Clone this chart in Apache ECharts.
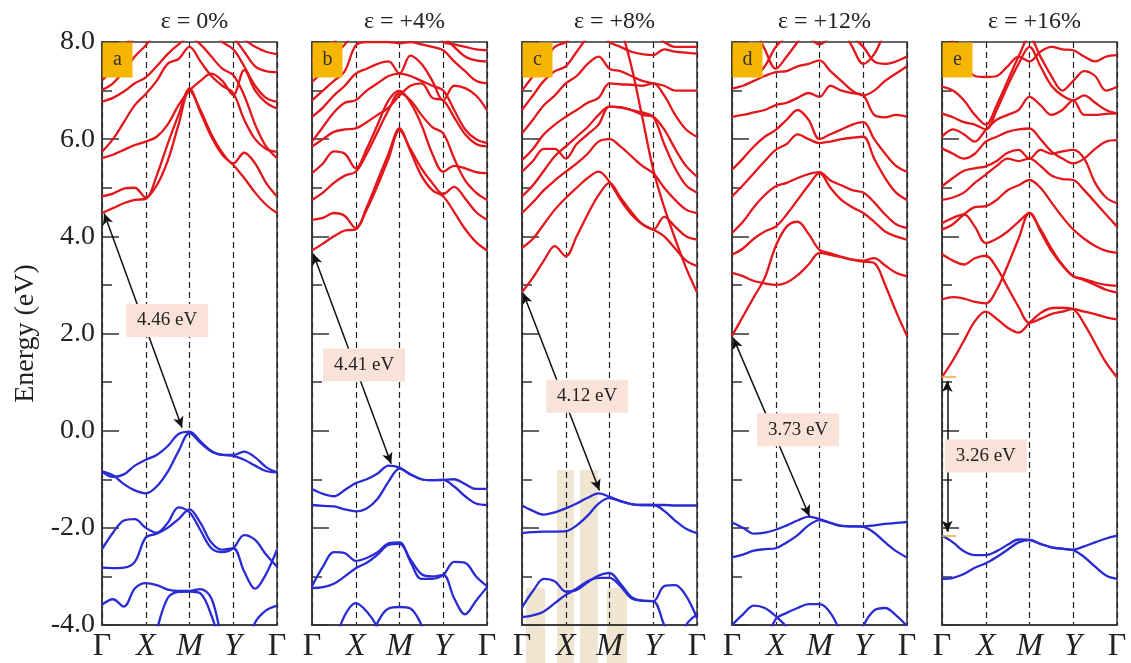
<!DOCTYPE html>
<html><head><meta charset="utf-8">
<script src="https://cdn.jsdelivr.net/npm/echarts@6/dist/echarts.min.js"></script>
<style>html,body{margin:0;padding:0;background:#fff}#c{width:1131px;height:663px}</style>
</head><body><div id="c"></div>
<script>
// ---------- DATA ----------
const kPts = [0,0.25,0.5,0.75,1,1.25,1.5,1.75,2,2.25,2.5,2.75,3,3.25,3.5,3.75,4];
const kLabels = ['Γ','X','M','Y','Γ'];
const strainLabels = ['ε = 0%','ε = +4%','ε = +8%','ε = +12%','ε = +16%'];
const panelLetters = ['a','b','c','d','e'];
const gapLabels = ['4.46 eV','4.41 eV','4.12 eV','3.73 eV','3.26 eV'];

const condA = [
 [4.48,4.58,4.68,4.75,4.77, 5.25,5.9,6.5,7.04, 6.55,6.05,5.68,5.47, 5.2,4.9,4.65,4.48],
 [4.82,4.88,4.98,5.0,4.8, 5.05,5.55,6.3,7.0, 6.6,6.1,5.72,5.5, 5.72,5.5,5.1,4.82],
 [5.61,5.68,5.78,5.88,5.95, 6.05,6.3,6.7,7.0, 7.2,7.35,7.2,6.91, 7.42,7.0,6.75,6.63],
 [5.74,6.0,6.35,6.7,6.93, 7.2,7.55,7.65,7.9, 7.6,7.3,7.1,6.95, 6.4,6.0,5.8,5.74],
 [6.77,6.85,6.98,7.15,7.27, 7.5,7.75,7.95,8.1, 7.95,7.7,7.45,7.32, 6.9,6.3,5.85,5.61],
 [7.01,7.15,7.4,7.7,7.93, 8.2,8.4,8.5,8.5, 8.4,8.2,8.0,7.85, 7.5,7.1,6.85,6.77],
 [7.21,7.45,7.8,8.1,8.3, 8.5,8.6,8.6,8.6, 8.6,8.5,8.3,8.1, 7.8,7.5,7.4,7.38],
 [7.55,7.65,7.9,8.2,8.4, 8.6,8.7,8.7,8.7, 8.7,8.6,8.4,8.2, 8.05,7.9,7.8,7.75]
];
const valA = [
 [-0.84,-0.95,-0.9,-0.72,-0.6, -0.5,-0.32,-0.07,-0.02, -0.22,-0.42,-0.5,-0.5, -0.43,-0.55,-0.75,-0.86],
 [-0.84,-0.92,-1.1,-1.23,-1.29, -1.15,-0.85,-0.42,-0.05, -0.25,-0.43,-0.5,-0.52, -0.6,-0.72,-0.83,-0.86],
 [-2.44,-2.1,-1.85,-1.82,-2.0, -2.1,-1.9,-1.58,-1.68, -2.05,-2.42,-2.5,-2.42, -2.15,-2.25,-2.55,-2.8],
 [-2.82,-2.83,-2.82,-2.7,-2.2, -2.12,-2.0,-1.82,-1.62, -1.9,-2.3,-2.45,-2.42, -2.9,-3.25,-2.95,-2.45],
 [-3.58,-3.47,-3.62,-3.25,-3.14, -3.18,-3.27,-3.3,-3.3, -3.26,-3.45,-4.3,-4.9, -5,-5,-5,-5],
 [-5,-5,-5,-5,-4.8, -4.1,-3.45,-3.32,-3.31, -3.35,-3.8,-4.5,-5, -4.6,-3.95,-3.7,-3.6]
];
const condB = [
 [3.71,3.85,4.0,4.12,4.14, 4.6,5.15,5.7,6.22, 5.75,5.25,4.95,4.82, 4.5,4.15,3.88,3.71],
 [4.34,4.38,4.48,4.42,4.17, 4.55,5.05,5.6,6.18, 5.8,5.4,5.1,4.87, 5.02,4.78,4.5,4.34],
 [4.75,4.9,5.1,5.25,5.33, 5.7,6.15,6.6,6.95, 6.8,6.5,6.25,6.12, 5.6,5.15,4.9,4.75],
 [5.3,5.5,5.75,5.7,5.4, 5.8,6.3,6.8,7.0, 6.75,6.3,5.7,5.33, 5.45,5.4,5.32,5.3],
 [5.85,6.0,6.15,6.2,6.22, 6.35,6.5,6.65,6.9, 7.1,7.15,6.85,6.8, 6.45,6.1,5.9,5.85],
 [5.95,6.25,6.55,6.75,6.8, 7.0,7.15,7.3,7.35, 7.3,7.2,7.1,7.0, 6.6,6.2,6.0,5.92],
 [6.46,6.65,6.9,7.1,7.35, 7.45,7.55,7.6,7.35, 7.72,7.55,7.2,6.8, 7.1,7.05,6.9,6.6],
 [6.8,7.0,7.2,7.4,7.93, 8.0,8.0,8.0,7.97, 8.0,7.95,7.9,7.83, 7.6,7.4,7.2,7.15],
 [7.18,7.4,7.7,7.95,8.2, 8.3,8.4,8.4,8.4, 8.4,8.3,8.2,8.1, 7.9,7.7,7.62,7.6],
 [7.6,7.8,8.0,8.2,8.4, 8.5,8.5,8.5,8.5, 8.5,8.4,8.2,8.0, 7.95,7.9,7.85,7.83]
];
const valB = [
 [-1.2,-1.3,-1.35,-1.22,-1.08, -1.0,-0.88,-0.72,-0.76, -0.9,-1.0,-1.02,-1.01, -1.0,-1.1,-1.2,-1.2],
 [-1.53,-1.55,-1.56,-1.62,-1.66, -1.6,-1.4,-1.05,-0.78, -0.9,-1.0,-1.02,-1.02, -1.15,-1.35,-1.5,-1.53],
 [-3.2,-2.8,-2.5,-2.52,-2.68, -2.62,-2.5,-2.32,-2.3, -2.7,-3.05,-3.05,-2.97, -2.7,-2.72,-3.0,-3.2],
 [-3.24,-3.22,-3.15,-3.0,-2.83, -2.72,-2.55,-2.35,-2.33, -2.65,-2.95,-3.0,-2.97, -3.45,-3.78,-3.5,-3.22],
 [-5,-5,-4.4,-3.8,-3.55, -3.72,-4.05,-4.6,-5, -5,-5,-5,-5, -5,-5,-5,-5],
 [-5,-5,-5,-5,-5, -4.6,-3.95,-3.66,-3.63, -3.66,-4.0,-4.6,-5, -5,-5,-5,-5]
];
const condC = [
 [2.85,3.15,3.5,3.8,3.59, 4.0,4.45,4.85,5.1, 4.8,4.5,4.25,4.14, 4.0,3.75,3.5,3.39],
 [3.76,3.95,4.25,4.55,4.79, 5.0,5.2,5.33,5.12, 4.75,4.45,4.25,4.14, 4.4,4.2,4.0,3.93],
 [9,9,9,9,9, 9,9,9,8.8, 8.3,7.5,6.45,5.37, 4.6,3.95,3.35,2.85],
 [4.48,4.7,4.95,5.15,5.33, 5.5,5.7,5.95,6.0, 5.85,5.65,5.45,5.3, 5.0,4.75,4.55,4.48],
 [4.82,5.05,5.35,5.65,5.85, 6.05,6.25,6.5,6.67, 6.65,6.6,6.55,6.46, 5.9,5.4,5.05,4.9],
 [5.33,5.55,5.8,5.8,5.6, 5.9,6.1,6.3,6.67, 6.66,6.6,6.5,6.46, 6.2,5.8,5.45,5.23],
 [5.57,5.8,6.1,6.3,6.46, 6.6,6.75,6.85,7.15, 7.13,7.12,7.1,7.15, 6.9,6.5,6.2,6.05],
 [6.12,6.4,6.7,6.9,7.15, 7.3,7.55,7.7,7.45, 7.4,7.3,7.2,7.15, 7.1,7.0,7.0,7.0],
 [6.6,6.9,7.2,7.4,7.5, 7.8,8.1,8.3,8.0, 7.9,7.8,7.75,7.73, 7.85,7.8,7.78,7.76],
 [7.0,7.3,7.6,7.9,8.0, 8.2,8.4,8.5,8.6, 8.5,8.4,8.3,8.2, 8.0,7.9,7.9,7.9]
];
const valC = [
 [-1.54,-1.65,-1.73,-1.68,-1.6, -1.5,-1.38,-1.29,-1.36, -1.45,-1.51,-1.53,-1.53, -1.53,-1.54,-1.54,-1.54],
 [-2.11,-2.09,-2.08,-2.08,-2.07, -1.95,-1.75,-1.5,-1.39, -1.45,-1.51,-1.53,-1.53, -1.65,-1.85,-2.02,-2.11],
 [-3.64,-3.3,-3.05,-3.1,-3.31, -3.28,-3.12,-2.98,-2.93, -3.15,-3.42,-3.5,-3.51, -3.2,-3.18,-3.4,-3.86],
 [-3.84,-3.8,-3.72,-3.55,-3.38, -3.25,-3.1,-3.03,-3.03, -3.2,-3.45,-3.5,-3.51, -4.0,-4.5,-4.8,-5],
 [-5,-5,-5,-5,-5, -5,-5,-5,-5, -5,-5,-5,-5, -5,-4.6,-4.0,-3.78]
];
const condD = [
 [1.95,2.35,2.75,3.15,3.8, 4.2,4.3,4.05,3.72, 3.65,3.58,3.52,3.48, 3.45,3.0,2.45,1.95],
 [3.25,3.18,3.08,3.03,3.0, 3.05,3.2,3.42,3.66, 3.62,3.57,3.52,3.5, 3.55,3.4,3.25,3.18],
 [3.62,3.75,3.95,4.1,4.2, 4.45,4.75,5.05,5.3, 5.0,4.75,4.6,4.48, 4.3,4.1,4.0,3.93],
 [4.07,4.3,4.6,4.85,5.03, 5.1,5.2,5.28,5.32, 5.15,5.05,4.95,4.9, 4.7,4.45,4.25,4.17],
 [4.82,5.05,5.3,5.55,5.78, 5.9,6.1,6.0,5.92, 5.95,6.0,6.03,6.05, 5.6,5.2,4.9,4.75],
 [5.37,5.6,5.85,6.05,6.19, 6.4,6.6,6.4,6.0, 6.1,6.2,6.3,6.35, 6.0,5.7,5.45,5.33],
 [6.46,6.5,6.55,6.6,6.7, 6.75,6.85,6.95,6.87, 7.1,7.0,6.95,6.9, 6.5,6.45,6.5,6.46],
 [7.04,7.1,7.2,7.3,7.38, 7.4,7.5,7.55,7.62, 7.4,7.2,7.0,6.9, 7.0,7.2,7.35,7.5],
 [7.6,7.45,7.3,7.5,7.9, 8.1,8.2,8.1,7.95, 8.1,8.2,8.1,7.9, 7.6,7.55,7.6,7.7],
 [8.8,8.6,8.3,7.85,7.45, 7.7,8.0,8.3,8.6, 8.6,8.3,7.9,7.55, 7.75,8.2,8.5,8.8]
];
const valD = [
 [-1.89,-2.0,-2.12,-2.1,-2.04, -1.95,-1.85,-1.77,-1.82, -1.9,-1.96,-1.97,-1.97, -1.95,-1.92,-1.9,-1.88],
 [-2.61,-2.55,-2.47,-2.44,-2.42, -2.3,-2.15,-1.95,-1.84, -1.9,-1.96,-1.97,-1.98, -2.1,-2.3,-2.48,-2.61],
 [-4.0,-3.78,-3.6,-3.65,-3.82, -4.05,-4.5,-5,-5, -5,-5,-5,-5, -5,-5,-5,-5],
 [-5,-5,-5,-4.4,-3.88, -3.75,-3.65,-3.57,-3.57, -3.75,-4.2,-4.8,-5, -5,-5,-5,-5],
 [-5,-5,-5,-5,-5, -5,-5,-5,-5, -5,-5,-4.6,-4.02, -3.7,-3.65,-3.8,-4.02]
];
const condE = [
 [1.1,1.45,1.85,2.25,2.45, 2.3,2.12,2.02,2.22, 2.42,2.52,2.53,2.5, 2.2,1.8,1.4,1.1],
 [2.7,2.75,2.72,2.65,2.62, 2.9,3.4,3.95,4.48, 4.15,3.75,3.42,3.18, 3.1,3.0,2.9,2.84],
 [3.63,3.5,3.42,3.55,3.6, 3.35,2.95,2.55,2.22, 2.3,2.4,2.45,2.5, 2.45,2.4,2.33,2.29],
 [4.27,4.38,4.45,4.2,3.86, 3.95,4.1,4.3,4.48, 4.1,3.7,3.4,3.18, 3.12,3.05,3.0,2.98],
 [4.14,4.25,4.45,4.6,4.62, 4.75,4.95,5.05,5.16, 5.0,4.7,4.4,4.14, 3.95,3.8,3.7,3.66],
 [4.75,4.8,4.9,5.1,5.27, 5.45,5.6,5.55,5.6, 5.45,5.25,5.18,5.16, 4.95,4.7,4.45,4.2],
 [5.03,5.2,5.35,5.4,5.44, 5.55,5.72,5.78,5.6, 5.78,5.7,5.75,5.78, 5.6,5.1,4.8,4.68],
 [5.81,5.7,5.6,5.7,5.95, 6.05,6.15,6.2,6.22, 6.0,5.75,5.6,5.5, 5.6,5.8,5.95,5.98],
 [6.05,6.2,6.1,5.95,6.19, 6.4,6.5,6.6,6.87, 6.7,6.5,6.6,6.8, 6.5,6.5,6.52,6.53],
 [6.53,6.45,6.35,6.3,6.2, 6.6,7.1,7.55,7.9, 7.5,7.1,6.9,6.8, 6.9,6.75,6.6,6.53],
 [7.08,7.0,6.8,6.5,6.3, 6.7,7.2,7.7,8.1, 7.7,7.3,7.0,7.2, 7.4,7.3,7.0,7.08],
 [8.4,8.0,7.6,7.3,7.28, 7.3,7.5,7.7,7.6, 7.8,7.9,7.85,7.83, 7.7,7.6,7.7,7.73]
];
const valE = [
 [-2.16,-2.3,-2.48,-2.56,-2.56, -2.48,-2.35,-2.24,-2.25, -2.33,-2.4,-2.43,-2.45, -2.38,-2.3,-2.22,-2.16],
 [-3.05,-3.03,-2.95,-2.82,-2.73, -2.6,-2.45,-2.3,-2.25, -2.33,-2.4,-2.43,-2.46, -2.6,-2.8,-2.98,-3.05]
];
// gap arrows [k1,E1,k2,E2] and label centres [k,E]
const gapArrows = [[0.05,4.47,1.83,0.06],[0.03,3.64,1.81,-0.68],[0.03,2.83,1.77,-1.23],[0.03,1.91,1.77,-1.76],[0.12,1.02,0.12,-2.08]];
const gapBoxes = [[1.49,2.27],[1.19,1.35],[1.49,0.71],[1.51,0.02],[1.0,-0.52]];
const edgeLevelsE = [1.1,-2.16];

// ---------- LAYOUT ----------
const panels = [[condA,valA],[condB,valB],[condC,valC],[condD,valD],[condE,valE]];
const SERIF = "'Liberation Serif','Times New Roman',serif";
const lefts = [102,312,522,732,942];
const TOP = 42, W = 175, H = 585;
const RED = '#e3161b', BLUE = '#2a2bd2';

const grids = [], xAxes = [], yAxes = [], series = [], titles = [], graphics = [];
const toData = arr => arr.map((e,i)=>[kPts[i],e]);

lefts.forEach((L,i)=>{
  grids.push({left:L, top:TOP, width:W, height:H, show:true, borderColor:'#333', borderWidth:1.5, backgroundColor:'transparent'});
  xAxes.push({type:'value', gridIndex:i, min:0, max:4, interval:1,
    axisLine:{show:true, onZero:false, lineStyle:{color:'#333', width:1.5}},
    axisTick:{show:false},
    splitLine:{show:true, lineStyle:{color:'#222', width:1.2, type:[6,4]}},
    axisLabel:{show:true, margin:6, showMinLabel:true, showMaxLabel:true,
      fontFamily:SERIF, fontSize:32, color:'#222',
      formatter:v=>{const n=kLabels[Math.round(v)]; return n==='Γ'? n : '{it|'+n+'}';},
      rich:{it:{fontStyle:'italic', fontFamily:SERIF, fontSize:32, color:'#222'}}}
  });
  yAxes.push({type:'value', gridIndex:i, min:-4, max:8, interval:2,
    name: i===0 ? 'Energy (eV)' : '', nameLocation:'middle', nameGap:62, nameRotate:90,
    nameTextStyle:{fontFamily:SERIF, fontSize:28, color:'#222'},
    axisLine:{show:true, onZero:false, lineStyle:{color:'#333', width:1.5}},
    axisTick:{show:true, inside:true, length:17, lineStyle:{color:'#333', width:1.5}},
    minorTick:{show:true, splitNumber:2, length:10, lineStyle:{color:'#333', width:1.5}},
    splitLine:{show:false},
    axisLabel:{show:i===0, margin:7, fontFamily:SERIF, fontSize:28, color:'#222',
      formatter:v=>v.toFixed(1)}
  });
  titles.push({text:strainLabels[i], left:L+W/2, top:5, textAlign:'center',
    textStyle:{fontFamily:SERIF, fontSize:24, fontWeight:'normal', color:'#222'}});
  const [cond,val] = panels[i];
  cond.forEach(b=>series.push({type:'line', xAxisIndex:i, yAxisIndex:i, data:toData(b), smooth:0.35,
    showSymbol:false, silent:true, clip:true, lineStyle:{color:RED, width:2.3}}));
  val.forEach(b=>series.push({type:'line', xAxisIndex:i, yAxisIndex:i, data:toData(b), smooth:0.35,
    showSymbol:false, silent:true, clip:true, lineStyle:{color:BLUE, width:2.3}}));
  const a = gapArrows[i];
  series.push({type:'line', xAxisIndex:i, yAxisIndex:i, data:[], z:4, silent:true,
    markLine:{silent:true, symbol:['arrow','arrow'], symbolSize:[8,11], animation:false,
      label:{show:false}, lineStyle:{color:'#111', width:1.5, type:'solid'},
      data:[[{coord:[a[0],a[1]]},{coord:[a[2],a[3]]}]]}});
  if(i===4){
    series.push({type:'line', xAxisIndex:i, yAxisIndex:i, data:[], z:4, silent:true,
      markLine:{silent:true, symbol:['none','none'], animation:false, label:{show:false},
        lineStyle:{color:'#e9b13a', width:1.6, type:'solid'},
        data: edgeLevelsE.map(e=>[{coord:[0,e]},{coord:[0.32,e]}])}});
  }
  const bx = gapBoxes[i];
  series.push({type:'scatter', xAxisIndex:i, yAxisIndex:i, data:[], z:6, silent:true,
    markPoint:{silent:true, animation:false, symbol:'rect', symbolSize:[82,33],
      itemStyle:{color:'#f9e2d8'},
      label:{show:true, position:'inside', formatter:gapLabels[i], fontFamily:SERIF, fontSize:19, color:'#222'},
      data:[{coord:bx}]}});
  graphics.push({type:'rect', z:100, shape:{x:L+0.5, y:TOP+0.5, width:30, height:35}, style:{fill:'#f6b500'}});
  graphics.push({type:'text', z:101, x:L+15.5, y:TOP+18, style:{text:panelLetters[i], font:'20px '+SERIF, fill:'#333', textAlign:'center', textVerticalAlign:'middle'}});
});

// watermark (background decoration in panel c)
const wm = 'rgba(225,208,172,0.55)';
[[557,470,17,193],[580,470,18,193],[526,588,19,75],[607,588,20,75]].forEach(r=>{
  graphics.push({type:'rect', z:-1, shape:{x:r[0],y:r[1],width:r[2],height:r[3]}, style:{fill:wm}});
});

const chart = echarts.init(document.getElementById('c'), null, {renderer:'canvas'});
chart.setOption({animation:false, backgroundColor:'#fff', title:titles, grid:grids, xAxis:xAxes, yAxis:yAxes, series:series, graphic:graphics});
</script></body></html>
